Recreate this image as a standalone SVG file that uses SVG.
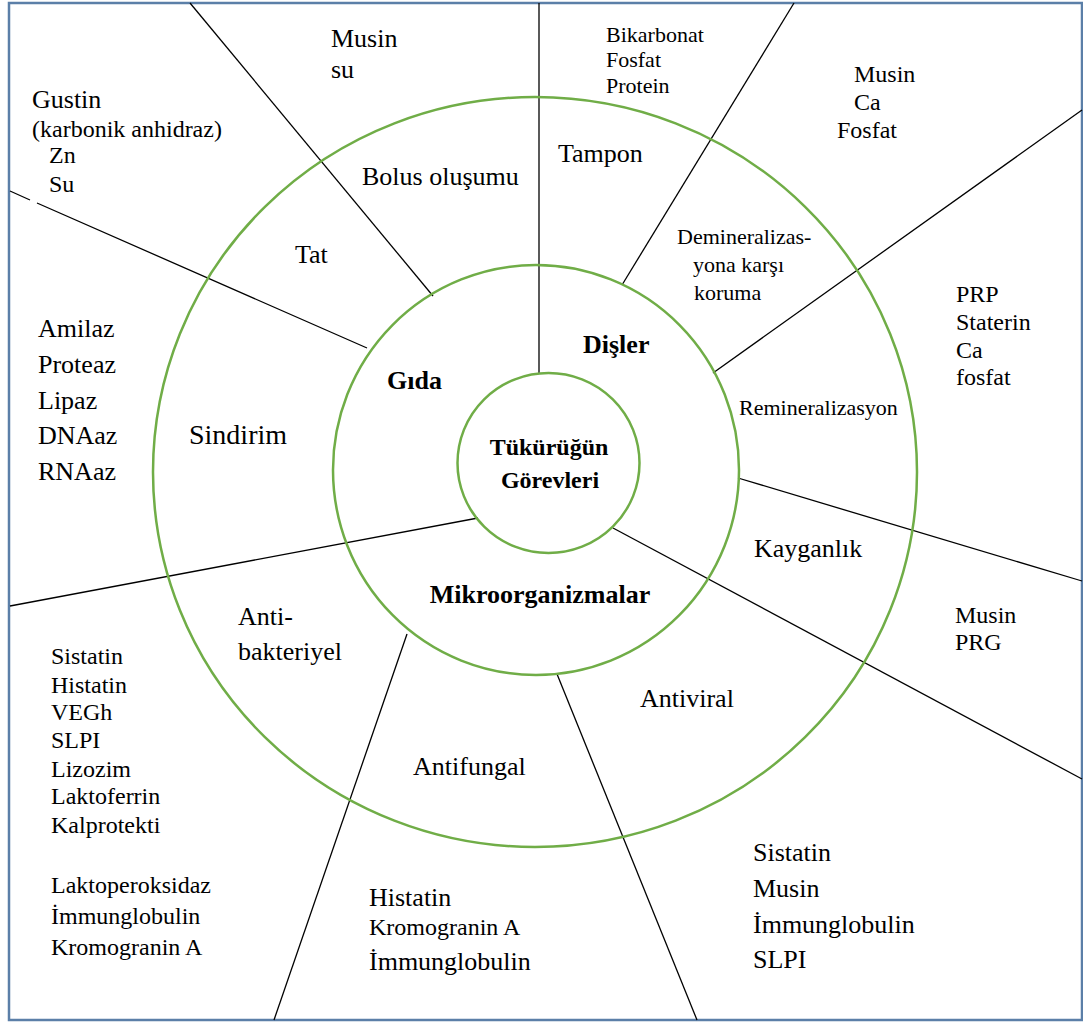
<svg xmlns="http://www.w3.org/2000/svg" width="1083" height="1026" viewBox="0 0 1083 1026">
<style>
.ring{fill:none;stroke:#70AD47;stroke-width:2.5}
.sp{stroke:#000;stroke-width:1.3;fill:none}
text{font-family:"Liberation Serif","Times New Roman",serif;fill:#000}
.b{font-weight:bold}
.f26{font-size:26px}
.f24{font-size:24px}
.f22{font-size:22px}
</style>
<rect x="0" y="0" width="1083" height="1026" fill="#fff"/>
<rect id="frame" x="9" y="3" width="1073" height="1017" fill="none" stroke="#5B7FA8" stroke-width="2.5"/>
<g id="connectors">
<line class="sp" x1="190" y1="3" x2="433" y2="296"/>
<line class="sp" x1="539" y1="3" x2="539" y2="373"/>
<line class="sp" x1="794" y1="3" x2="622" y2="285"/>
<line class="sp" x1="1082" y1="110" x2="713" y2="373" stroke-width="2"/>
<line class="sp" x1="738" y1="478" x2="1082" y2="581"/>
<line class="sp" x1="613" y1="528" x2="1082" y2="779"/>
<line class="sp" x1="557" y1="674" x2="697" y2="1020"/>
<line class="sp" x1="407" y1="634" x2="274" y2="1020"/>
<line class="sp" x1="478" y1="518" x2="10" y2="606"/>
<path class="sp" d="M10 191 L30 200 M37 203 L367 348"/>
</g>
<g id="rings">
<ellipse id="outer" class="ring" cx="535" cy="472" rx="382" ry="375"/>
<ellipse id="middle" class="ring" cx="536" cy="470" rx="203" ry="205"/>
<ellipse id="inner" class="ring" cx="548.5" cy="463" rx="91" ry="90"/>
</g>
<g id="center"><text class="b f24" x="549" y="455" text-anchor="middle">Tükürüğün</text><text class="b f24" x="550" y="488" text-anchor="middle">Görevleri</text></g>
<g id="gida"><text class="b f26" x="387" y="389">Gıda</text></g>
<g id="disler"><text class="b f26" x="583" y="353">Dişler</text></g>
<g id="mikro"><text class="b f26" x="540" y="603" text-anchor="middle">Mikroorganizmalar</text></g>
<g id="tat"><text class="f26" x="295" y="263">Tat</text></g>
<g id="bolus"><text class="f26" x="362" y="185">Bolus oluşumu</text></g>
<g id="tampon"><text class="f26" x="558" y="162">Tampon</text></g>
<g id="demin"><text class="f22" x="677" y="244">Demineralizas-</text><text class="f22" x="693" y="272">yona karşı</text><text class="f22" x="694" y="300">koruma</text></g>
<g id="remin"><text class="f22" x="739" y="415">Remineralizasyon</text></g>
<g id="kayganlik"><text class="f26" x="754" y="557">Kayganlık</text></g>
<g id="antiviral"><text class="f26" x="640" y="707">Antiviral</text></g>
<g id="antifungal"><text class="f26" x="413" y="775">Antifungal</text></g>
<g id="antibakteriyel"><text class="f26" x="238" y="625">Anti-</text><text class="f26" x="238" y="660">bakteriyel</text></g>
<g id="sindirim"><text x="189" y="444" style="font-size:28px">Sindirim</text></g>
<g id="l-musin-su"><text class="f26" x="331" y="47">Musin</text><text class="f26" x="331" y="78">su</text></g>
<g id="l-gustin"><text class="f26" x="32" y="108">Gustin</text><text class="f24" x="32" y="137">(karbonik anhidraz)</text><text class="f24" x="49" y="163">Zn</text><text class="f24" x="49" y="192">Su</text></g>
<g id="l-tampon"><text class="f22" x="606" y="42">Bikarbonat</text><text class="f22" x="606" y="67">Fosfat</text><text class="f22" x="606" y="93">Protein</text></g>
<g id="l-demin"><text class="f24" x="854" y="82">Musin</text><text class="f24" x="854" y="110">Ca</text><text class="f24" x="837" y="138">Fosfat</text></g>
<g id="l-remin"><text class="f24" x="956" y="302">PRP</text><text class="f24" x="956" y="330">Staterin</text><text class="f24" x="956" y="358">Ca</text><text class="f24" x="956" y="385">fosfat</text></g>
<g id="l-kayganlik"><text class="f24" x="955" y="623">Musin</text><text class="f24" x="955" y="650">PRG</text></g>
<g id="l-sindirim"><text class="f26" x="38" y="337">Amilaz</text><text class="f26" x="38" y="373">Proteaz</text><text class="f26" x="38" y="409">Lipaz</text><text class="f26" x="38" y="444">DNAaz</text><text class="f26" x="38" y="480">RNAaz</text></g>
<g id="l-antibakteriyel"><text class="f24" x="51" y="664">Sistatin</text><text class="f24" x="51" y="693">Histatin</text><text class="f24" x="51" y="720">VEGh</text><text class="f24" x="51" y="748">SLPI</text><text class="f24" x="51" y="777">Lizozim</text><text class="f24" x="51" y="804">Laktoferrin</text><text class="f24" x="51" y="833">Kalprotekti</text><text class="f24" x="51" y="893">Laktoperoksidaz</text><text class="f24" x="51" y="924">İmmunglobulin</text><text class="f24" x="51" y="955">Kromogranin A</text></g>
<g id="l-antifungal"><text class="f26" x="369" y="906">Histatin</text><text class="f24" x="369" y="935">Kromogranin A</text><text class="f26" x="369" y="970">İmmunglobulin</text></g>
<g id="l-antiviral"><text class="f26" x="753" y="861">Sistatin</text><text class="f26" x="753" y="897">Musin</text><text class="f26" x="753" y="933">İmmunglobulin</text><text class="f26" x="753" y="968">SLPI</text></g>
</svg>
